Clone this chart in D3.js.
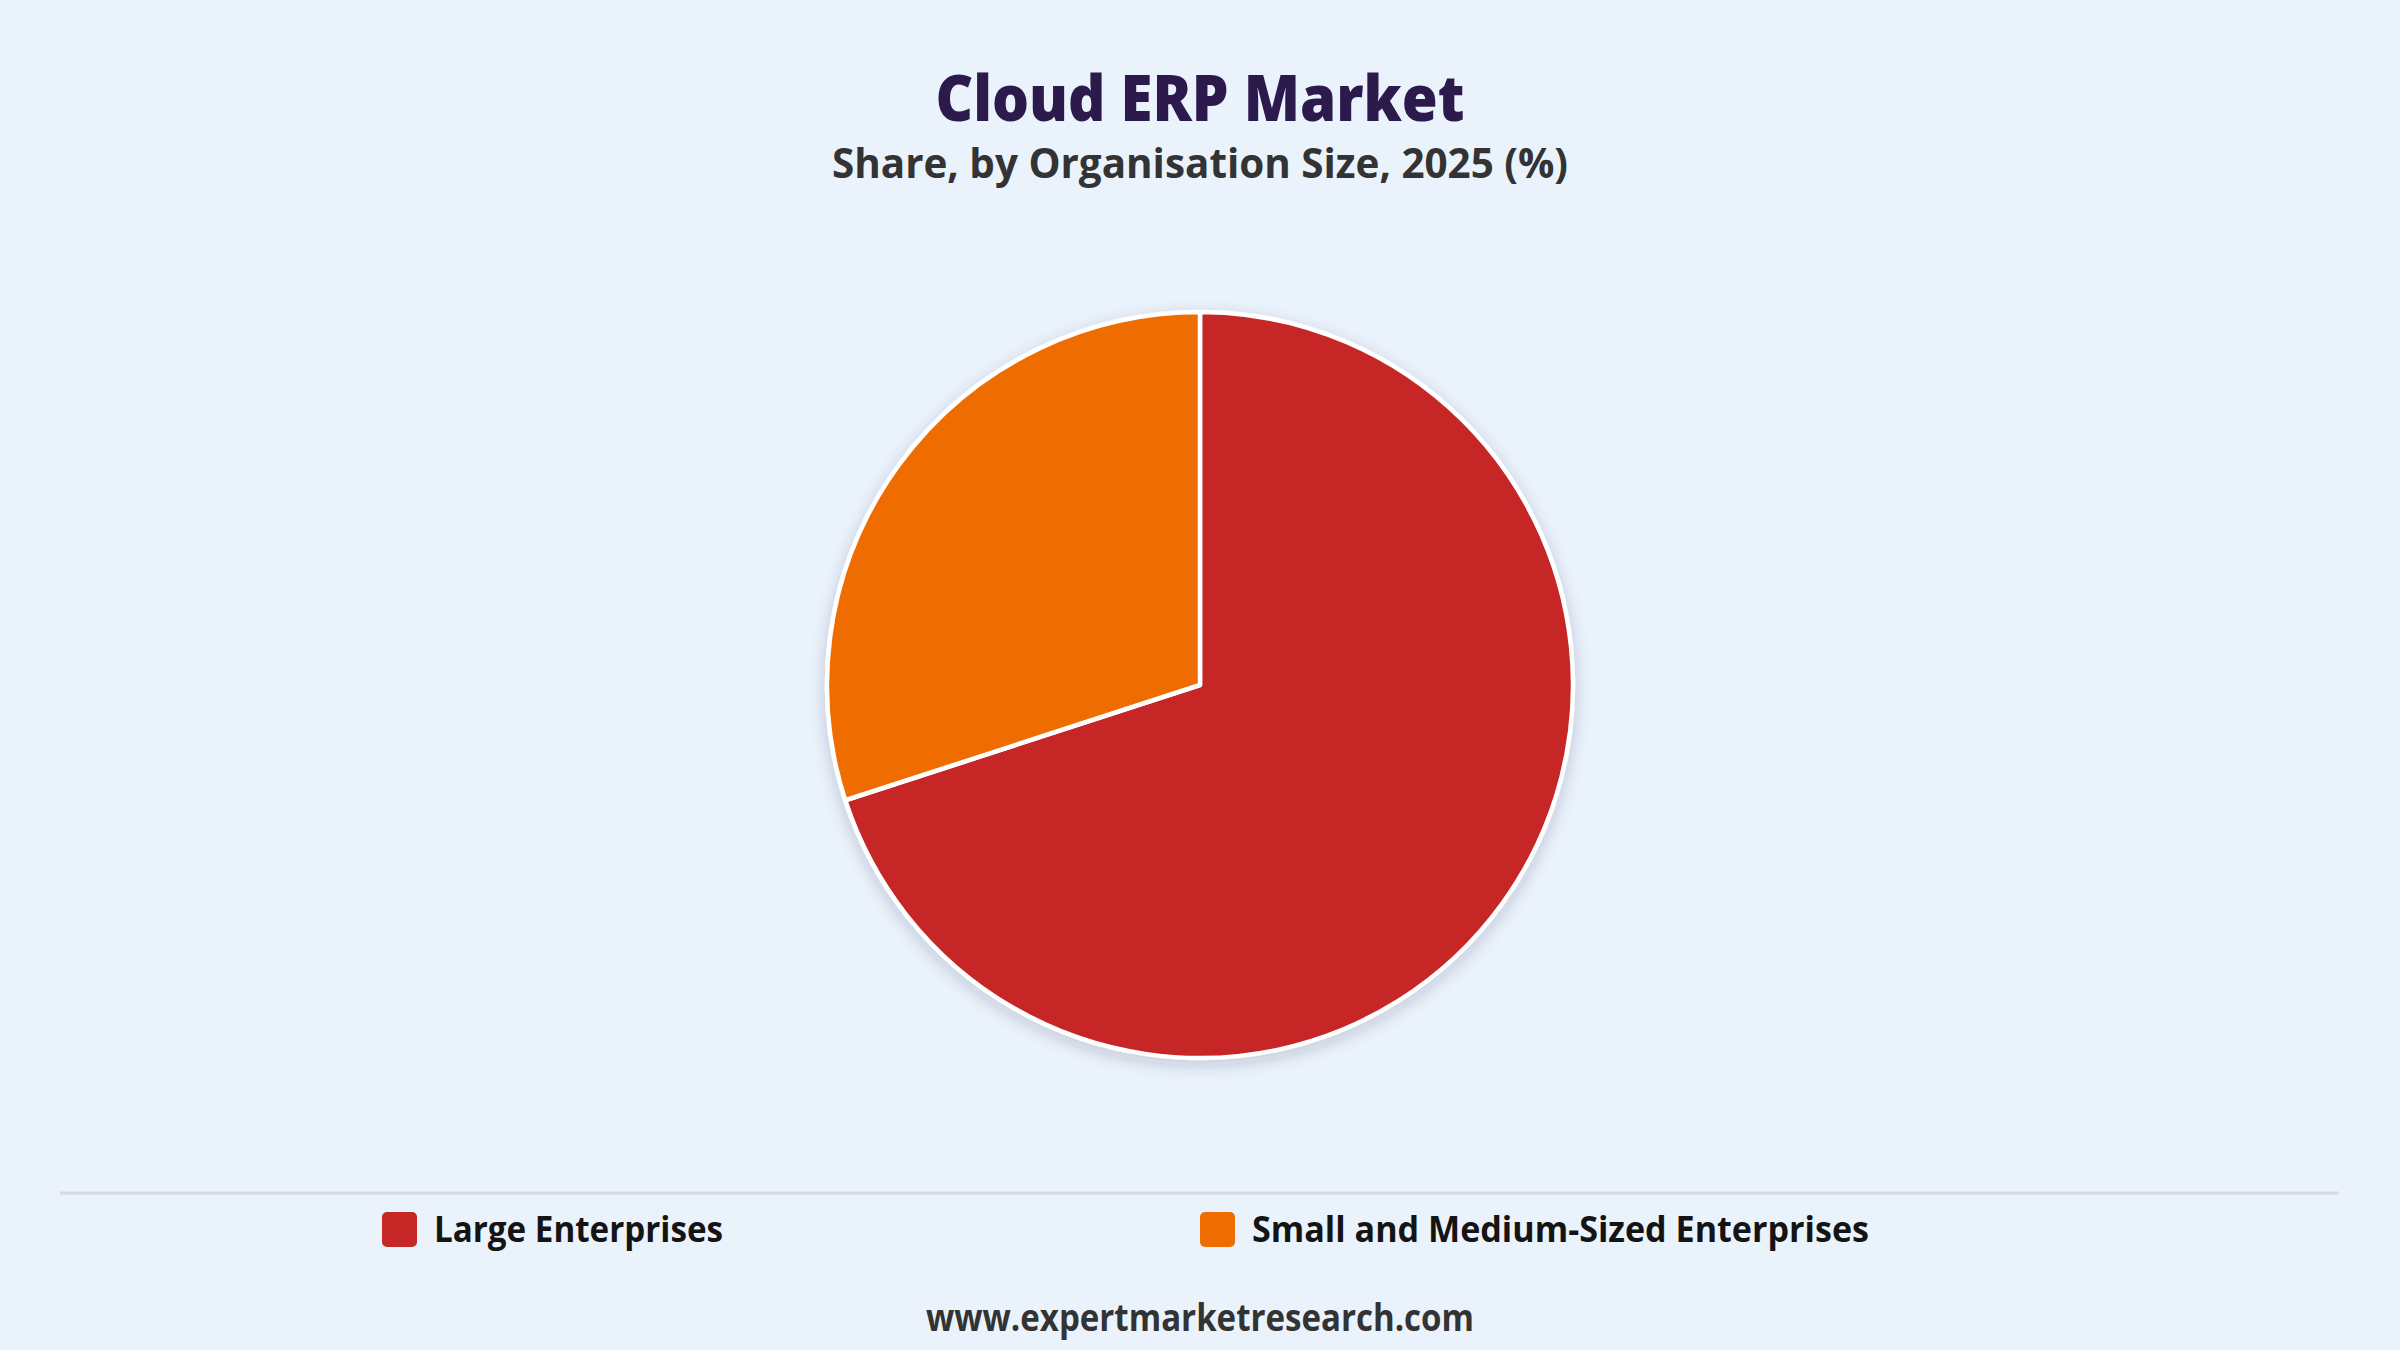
<!DOCTYPE html>
<html>
<head>
<meta charset="utf-8">
<script src="https://cdn.jsdelivr.net/npm/d3@7"></script>
<style>
  html, body { margin: 0; padding: 0; background: #eaf2fb; }
  svg { display: block; }
  text { font-family: "Open Sans", "Noto Sans", sans-serif; }
</style>
</head>
<body>
<div id="chart"></div>
<script>
var categories = ["Large Enterprises", "Small and Medium-Sized Enterprises"]
var shares = [70, 30]
var colors = ["#c62828", "#ef6c00"]

var titleText = "Cloud ERP Market"
var subtitleText = "Share, by Organisation Size, 2025 (%)"
var sourceText = "www.expertmarketresearch.com"

var width = 2400,
    height = 1350

var svg = d3.select("#chart").append("svg")
    .attr("width", width)
    .attr("height", height)

svg.append("rect").attr("width", width).attr("height", height).attr("fill", "#eaf2fb")

var defs = svg.append("defs")
var shadow = defs.append("filter").attr("id", "pieShadow")
    .attr("x", "-20%").attr("y", "-20%").attr("width", "140%").attr("height", "140%")
shadow.append("feDropShadow")
    .attr("dx", 0).attr("dy", 5)
    .attr("stdDeviation", 8)
    .attr("flood-color", "#1a2a40")
    .attr("flood-opacity", 0.2)

// titles - squeeze to the widths of the original lettering
function fitText(sel, w) {
	sel.attr("textLength", w).attr("lengthAdjust", "spacingAndGlyphs")
}

svg.append("text").text(titleText)
    .attr("x", width / 2).attr("y", 121)
    .attr("text-anchor", "middle")
    .style("font-size", "64px").style("font-weight", 800)
    .attr("fill", "#2c1a4d")
    .call(fitText, 529)

svg.append("text").text(subtitleText)
    .attr("x", width / 2).attr("y", 178)
    .attr("text-anchor", "middle")
    .style("font-size", "42px").style("font-weight", 700)
    .attr("fill", "#333333")
    .call(fitText, 736)

// pie
var radius = 373
var pie = d3.pie().sort(null).value(function(d) { return d })
var arc = d3.arc().innerRadius(0).outerRadius(radius)

var pieG = svg.append("g")
    .attr("transform", "translate(" + width / 2 + "," + 685 + ")")
    .attr("filter", "url(#pieShadow)")

pieG.selectAll(".slice")
    .data(pie(shares))
    .enter()
    .append("path")
    .attr("class", "slice")
    .attr("d", arc)
    .attr("fill", function(d, i) { return colors[i] })
    .attr("stroke", "#ffffff")
    .attr("stroke-width", 4.5)
    .attr("stroke-linejoin", "round")

// separator
svg.append("line")
    .attr("x1", 60).attr("x2", 2339)
    .attr("y1", 1193).attr("y2", 1193)
    .attr("stroke", "#d7dbe1")
    .attr("stroke-width", 3)

// legend: two equal columns centred on the page
var legendX = d3.scaleBand().domain(categories).range([382, 2018])
var legendW = { "Large Enterprises": 289, "Small and Medium-Sized Enterprises": 617 }

var legend = svg.selectAll(".legendItem")
    .data(categories)
    .enter()
    .append("g")
    .attr("class", "legendItem")
    .attr("transform", function(d) { return "translate(" + legendX(d) + ",1212)" })

legend.append("rect")
    .attr("width", 35).attr("height", 35)
    .attr("rx", 5).attr("ry", 5)
    .attr("fill", function(d, i) { return colors[i] })

legend.append("text")
    .text(function(d) { return d })
    .attr("x", 52).attr("y", 30)
    .style("font-size", "35px").style("font-weight", 700)
    .attr("fill", "#141414")
    .each(function(d) { d3.select(this).call(fitText, legendW[d]) })

svg.append("text").text(sourceText)
    .attr("x", width / 2).attr("y", 1331)
    .attr("text-anchor", "middle")
    .style("font-size", "37px").style("font-weight", 700)
    .attr("fill", "#333333")
    .call(fitText, 548)
</script>
</body>
</html>
